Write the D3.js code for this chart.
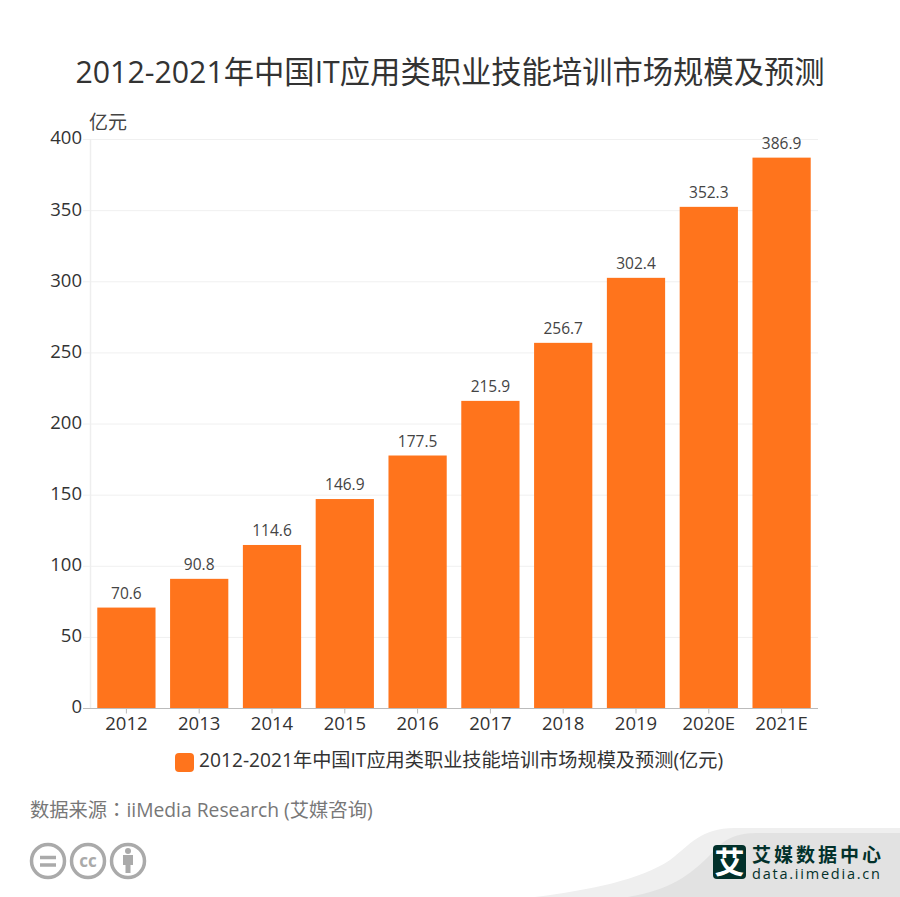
<!DOCTYPE html>
<html>
<head>
    <meta charset="utf-8">
    <title>2012-2021年中国IT应用类职业技能培训市场规模及预测</title>
    <style>
        html, body { margin: 0; padding: 0; background: #fff; }
        text { font-family: "Open Sans", "Noto Sans CJK SC", sans-serif; }
    </style>
</head>
<body>
    <div id="chart"></div>
    <script src="https://d3js.org/d3.v7.min.js"></script>
    <script>
        var titleText = "2012-2021年中国IT应用类职业技能培训市场规模及预测";
        var legendText = "2012-2021年中国IT应用类职业技能培训市场规模及预测(亿元)";
        var sourceText = "数据来源：iiMedia Research (艾媒咨询)";
        var unitText = "亿元";
        var years = ["2012", "2013", "2014", "2015", "2016", "2017", "2018", "2019", "2020E", "2021E"];
        var values = [70.6, 90.8, 114.6, 146.9, 177.5, 215.9, 256.7, 302.4, 352.3, 386.9];
        var yTicks = [0, 50, 100, 150, 200, 250, 300, 350, 400];

        var width = 900, height = 897;
        var plotLeft = 90, plotRight = 818, plotTop = 139, plotBottom = 708;
        var orange = "#ff741c";

        var svg = d3.select("#chart").append("svg")
            .attr("width", width)
            .attr("height", height)
            .style("display", "block");

        var x = d3.scaleBand().domain(years).range([plotLeft, plotRight]).paddingInner(0.2).paddingOuter(0.1);
        var y = d3.scaleLinear().domain([0, 400]).range([plotBottom, plotTop]);

        svg.append("text")
            .attr("x", 450).attr("y", 83)
            .attr("text-anchor", "middle")
            .attr("font-size", 30.3)
            .attr("fill", "#333")
            .text(titleText);

        svg.append("text")
            .attr("x", 89).attr("y", 129)
            .attr("font-size", 19)
            .attr("fill", "#444")
            .text(unitText);

        // grid
        svg.selectAll(".grid")
            .data(yTicks.slice(1))
            .enter().append("line")
            .attr("class", "grid")
            .attr("x1", plotLeft - 7).attr("x2", plotRight)
            .attr("y1", function (d) { return y(d) + 0.5; })
            .attr("y2", function (d) { return y(d) + 0.5; })
            .attr("stroke", "#f0f0f0");

        svg.append("line")
            .attr("x1", plotLeft + 0.5).attr("x2", plotLeft + 0.5)
            .attr("y1", plotTop).attr("y2", plotBottom)
            .attr("stroke", "#eee").attr("stroke-width", 1.5);

        // bars
        svg.selectAll(".bar")
            .data(values)
            .enter().append("rect")
            .attr("class", "bar")
            .attr("x", function (d, i) { return x(years[i]); })
            .attr("y", function (d) { return y(d); })
            .attr("width", x.bandwidth())
            .attr("height", function (d) { return plotBottom - y(d); })
            .attr("fill", orange);

        svg.selectAll(".bar-label")
            .data(values)
            .enter().append("text")
            .attr("class", "bar-label")
            .attr("x", function (d, i) { return x(years[i]) + x.bandwidth() / 2; })
            .attr("y", function (d) { return y(d) - 9; })
            .attr("text-anchor", "middle")
            .attr("font-size", 15.5)
            .attr("fill", "#444")
            .text(function (d) { return d.toFixed(1); });

        // axes
        var xAxis = svg.append("g")
            .attr("transform", "translate(0," + (plotBottom + 0.5) + ")")
            .call(d3.axisBottom(x).tickSize(5).tickPadding(3).tickSizeOuter(0));
        xAxis.attr("font-family", null);
        xAxis.select(".domain").attr("stroke", "#bbb").attr("d", "M" + (plotLeft - 7) + ",0H" + plotRight);
        xAxis.selectAll(".tick line").attr("stroke", "#bbb");
        xAxis.selectAll("text").attr("font-size", 18.5).attr("fill", "#333");

        var yAxis = svg.append("g")
            .attr("transform", "translate(" + plotLeft + ",-1)")
            .call(d3.axisLeft(y).tickValues(yTicks).tickSize(0).tickPadding(8));
        yAxis.attr("font-family", null);
        yAxis.select(".domain").remove();
        yAxis.selectAll("text").attr("font-size", 18.5).attr("fill", "#333");

        // legend
        svg.append("rect")
            .attr("x", 175).attr("y", 753)
            .attr("width", 19).attr("height", 19)
            .attr("rx", 4)
            .attr("fill", orange);
        svg.append("text")
            .attr("x", 199).attr("y", 767)
            .attr("font-size", 19.2)
            .attr("fill", "#333")
            .text(legendText);

        // source
        svg.append("text")
            .attr("x", 30).attr("y", 817)
            .attr("font-size", 19.3)
            .attr("fill", "#777")
            .style("font-family", '"Open Sans", "Noto Sans CJK TC", sans-serif')
            .text(sourceText);

        // licence icons
        var icons = svg.append("g").attr("fill", "none").attr("stroke", "#aaa").attr("stroke-width", 3.5);
        [48, 88, 128].forEach(function (cx) {
            icons.append("circle").attr("cx", cx).attr("cy", 861).attr("r", 16.5);
        });
        icons.append("path").attr("d", "M40,857.5H56M40,865H56").attr("stroke-width", 3.5);
        svg.append("text")
            .attr("x", 88).attr("y", 867)
            .attr("text-anchor", "middle")
            .attr("font-size", 17).attr("font-weight", 700)
            .attr("fill", "#aaa")
            .text("cc");
        svg.append("circle").attr("cx", 128).attr("cy", 851).attr("r", 3).attr("fill", "#aaa");
        svg.append("path")
            .attr("d", "M123,855H133V865H130.5V873H125.5V865H123Z")
            .attr("fill", "#aaa");

        // logo corner
        svg.append("path")
            .attr("d", "M535,897C590,890 640,880 670,860C690,845 700,828 735,828H900V897Z")
            .attr("fill", "#efefef");
        svg.append("path")
            .attr("d", "M628,897C670,890 690,875 710,855C725,838 735,833 760,833H900V897Z")
            .attr("fill", "#e2e2e2");
        svg.append("rect")
            .attr("x", 713).attr("y", 845)
            .attr("width", 33).attr("height", 34)
            .attr("rx", 4)
            .attr("fill", "#02312b");
        svg.append("text")
            .attr("x", 729.5).attr("y", 873)
            .attr("text-anchor", "middle")
            .attr("font-size", 30).attr("font-weight", 700)
            .attr("fill", "#fff")
            .text("艾");
        svg.append("text")
            .attr("x", 752).attr("y", 862)
            .attr("font-size", 19).attr("font-weight", 700)
            .attr("textLength", 129)
            .attr("fill", "#02312b")
            .text("艾媒数据中心");
        svg.append("text")
            .attr("x", 752).attr("y", 879)
            .attr("font-size", 14.5)
            .attr("textLength", 128)
            .attr("fill", "#02312b")
            .text("data.iimedia.cn");
    </script>
</body>
</html>
